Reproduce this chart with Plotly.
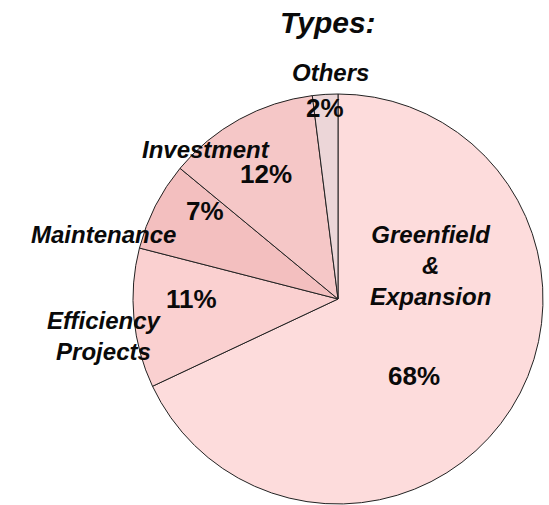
import plotly.graph_objects as go

W, H = 549, 505

# Share of projects by type (percent)
types = ["Greenfield<br>&<br>Expansion", "Efficiency<br>Projects", "Maintenance", "Investment", "Others"]
shares = [68, 11, 7, 12, 2]
slice_colors = ["#fddcdc", "#fad0d0", "#f3bfbf", "#f5c7c7", "#ecd6d8"]

# label anchor points in pixels (name position, percent position)
name_pos = [(430, 265), (104, 336), (103, 235), (206, 149), (330, 72)]
pct_pos = [(414, 376), (191, 299), (205, 211), (266, 174), (325, 108)]

FONT = "Liberation Sans, Arial, sans-serif"

fig = go.Figure(
    go.Pie(
        labels=[t.replace("<br>", " ") for t in types],
        values=shares,
        sort=False,
        direction="clockwise",
        rotation=0,
        marker=dict(colors=slice_colors, line=dict(color="#222222", width=1)),
        textinfo="none",
        hoverinfo="label+percent",
        showlegend=False,
        domain=dict(x=[(338 - 205) / W, (338 + 205) / W], y=[1 - 504 / H, 1 - 94 / H]),
    )
)


def px(x, y):
    return x / W, 1 - y / H


annotations = [
    dict(text="<b><i>Types:</i></b>", x=px(328, 22)[0], y=px(328, 22)[1], font=dict(size=30))
]
for name, v, (nx, ny), (qx, qy) in zip(types, shares, name_pos, pct_pos):
    annotations.append(dict(text=f"<b><i>{name}</i></b>", x=px(nx, ny)[0], y=px(nx, ny)[1],
                            font=dict(size=24)))
    annotations.append(dict(text=f"<b>{v}%</b>", x=px(qx, qy)[0], y=px(qx, qy)[1],
                            font=dict(size=26)))

for a in annotations:
    a.update(xref="paper", yref="paper", showarrow=False, xanchor="center", yanchor="middle")
    a["font"].update(family=FONT, color="#0a0a0a")

fig.update_layout(
    width=W,
    height=H,
    margin=dict(l=0, r=0, t=0, b=0),
    paper_bgcolor="white",
    plot_bgcolor="white",
    annotations=annotations,
)

fig.write_html("out.html")
